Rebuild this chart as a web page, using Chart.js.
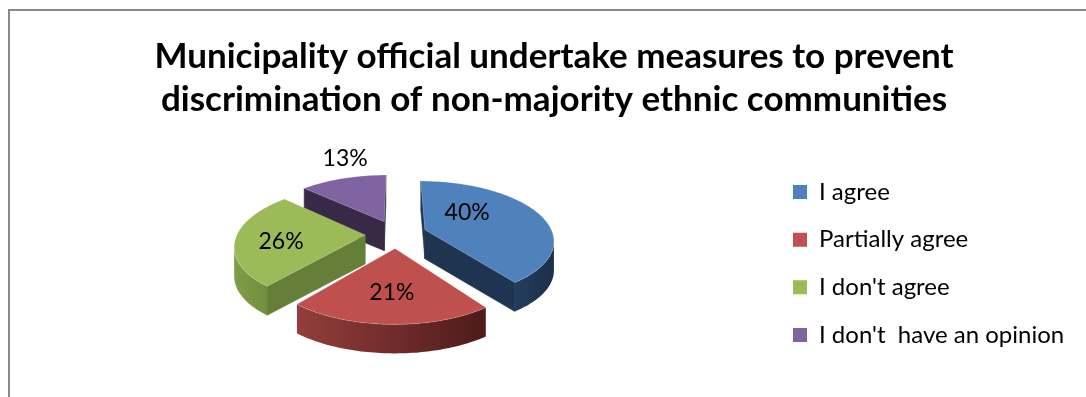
<!DOCTYPE html>
<html>
<head>
<meta charset="utf-8">
<title>Municipality measures</title>
<script src="https://cdn.jsdelivr.net/npm/chart.js@4.4.1/dist/chart.umd.min.js"></script>
<style>
  html, body { margin: 0; padding: 0; background: #fff; overflow: hidden; }
  #frame {
    position: absolute; left: 8px; top: 9px; width: 1200px; height: 500px;
    border: 2px solid #898989; box-sizing: border-box;
  }
  #wrap { position: absolute; left: 0; top: 0; width: 1086px; height: 397px; }
</style>
</head>
<body>
<div id="frame"></div>
<div id="wrap"><canvas id="pieChart" width="1086" height="397"></canvas></div>
<script>
// survey answers and their shares (%)
const answers = ["I agree", "Partially agree", "I don't agree", "I don't  have an opinion"];
const shares = [40, 21, 26, 13];
const titleLines = [
  "Municipality official undertake measures to prevent",
  "discrimination of non-majority ethnic communities"
];

// top faces, flat cut walls, and the curved rim (left -> right shade)
const faceColors = ["#4F81BD", "#C0504D", "#9BBB59", "#8064A2"];
const cutColors = ["#1F3451", "#6E2826", "#667F38", "#382A47"];
const rimColors = [
  ["#243D5C", "#1C2F4A"],
  ["#933E3C", "#4D1B1A"],
  ["#7F9E48", "#718F3E"],
  ["#4A3A5E", "#3A2C4C"]
];
// where each value label sits, relative to its slice (angle shift in deg, radius)
const labelSpots = [
  { da: -24, r: 0.49 },
  { da: 0, r: 0.63 },
  { da: -7, r: 0.65 },
  { da: 7.5, r: 1.5 }
];

const FONT = "Lato, 'Open Sans', sans-serif";

// tilted, exploded 3D pie built from the arc elements Chart.js lays out
const pie3d = {
  id: "pie3d",
  beforeDatasetsDraw(chart, args, opts) {
    const ctx = chart.ctx;
    const arcs = chart.getDatasetMeta(0).data;
    const { cx, cy, rx, ry, persp, explode, depth } = opts;

    const project = (a, b, h) => {
      const w = 1 + persp * b;
      return { x: cx + (rx * a) / w, y: cy - (ry * b) / w + h };
    };

    const slices = arcs.map((arc, i) => {
      // chart.js angles start at 3 o'clock; turn them into clockwise-from-top
      const t0 = arc.startAngle + Math.PI / 2;
      const t1 = arc.endAngle + Math.PI / 2;
      const mid = (t0 + t1) / 2;
      const apex = [explode * Math.sin(mid), explode * Math.cos(mid)];
      const n = Math.max(8, Math.ceil((t1 - t0) / 0.02));
      const rim = [];
      for (let k = 0; k <= n; k++) {
        const t = t0 + ((t1 - t0) * k) / n;
        rim.push([apex[0] + Math.sin(t), apex[1] + Math.cos(t)]);
      }
      return { i, mid, apex, rim };
    });

    // back slices first
    const order = slices.slice().sort(
      (p, q) => project(p.apex[0], p.apex[1], 0).y - project(q.apex[0], q.apex[1], 0).y
    );

    const quad = (p, q, color) => {
      const a = project(p[0], p[1], 0), b = project(q[0], q[1], 0);
      ctx.beginPath();
      ctx.moveTo(a.x, a.y);
      ctx.lineTo(b.x, b.y);
      ctx.lineTo(b.x, b.y + depth);
      ctx.lineTo(a.x, a.y + depth);
      ctx.closePath();
      ctx.fillStyle = color;
      ctx.fill();
      ctx.strokeStyle = color;
      ctx.lineWidth = 0.6;
      ctx.stroke();
    };
    // a wall hangs in view when its top edge runs leftwards (faces are clockwise)
    const facing = (p, q) => project(q[0], q[1], 0).x < project(p[0], p[1], 0).x;

    ctx.save();
    order.forEach((s) => {
      const { i, apex, rim } = s;
      const first = rim[0], last = rim[rim.length - 1];

      if (facing(apex, first)) quad(apex, first, cutColors[i]);
      if (facing(last, apex)) quad(last, apex, cutColors[i]);

      // curved rim: collect runs of visible segments
      let run = [];
      const flush = () => {
        if (run.length < 2) { run = []; return; }
        const top = run.map((p) => project(p[0], p[1], 0));
        const xs = top.map((p) => p.x);
        const g = ctx.createLinearGradient(Math.min(...xs), 0, Math.max(...xs), 0);
        g.addColorStop(0, rimColors[i][0]);
        g.addColorStop(1, rimColors[i][1]);
        ctx.beginPath();
        top.forEach((p, k) => (k ? ctx.lineTo(p.x, p.y) : ctx.moveTo(p.x, p.y)));
        for (let k = top.length - 1; k >= 0; k--) ctx.lineTo(top[k].x, top[k].y + depth);
        ctx.closePath();
        ctx.fillStyle = g;
        ctx.fill();
        run = [];
      };
      for (let k = 0; k < rim.length - 1; k++) {
        if (facing(rim[k], rim[k + 1])) {
          if (!run.length) run.push(rim[k]);
          run.push(rim[k + 1]);
        } else flush();
      }
      flush();

      // top face
      ctx.beginPath();
      const a0 = project(apex[0], apex[1], 0);
      ctx.moveTo(a0.x, a0.y);
      rim.forEach((p) => {
        const q = project(p[0], p[1], 0);
        ctx.lineTo(q.x, q.y);
      });
      ctx.closePath();
      ctx.fillStyle = faceColors[i];
      ctx.fill();
      ctx.strokeStyle = "rgba(255,255,255,0.18)";
      ctx.lineWidth = 1;
      ctx.stroke();
    });

    // value labels
    const values = chart.data.datasets[0].data;
    ctx.fillStyle = "#000";
    ctx.font = "23px " + FONT;
    ctx.textAlign = "center";
    ctx.textBaseline = "middle";
    slices.forEach((s) => {
      const spot = labelSpots[s.i];
      const t = s.mid + (spot.da * Math.PI) / 180;
      const p = project(s.apex[0] + spot.r * Math.sin(t), s.apex[1] + spot.r * Math.cos(t), 0);
      ctx.fillText(values[s.i] + "%", p.x, p.y);
    });
    ctx.restore();
    return false;
  }
};

// keep the legend squares at a fixed column regardless of text width
const LEGEND_FONT = 24;
const LEGEND_BOX = 14;
const LEGEND_X = 793;
const meas = document.createElement("canvas").getContext("2d");
meas.font = LEGEND_FONT + "px " + FONT;
const widest = Math.max(...answers.map((t) => meas.measureText(t).width));
const padRight = 1086 - 10 - LEGEND_X - (LEGEND_BOX + LEGEND_FONT / 2 + widest);
const padLeft = padRight + 22;

new Chart(document.getElementById("pieChart"), {
  type: "pie",
  data: {
    labels: answers,
    datasets: [{
      data: shares,
      backgroundColor: faceColors,
      borderWidth: 0
    }]
  },
  options: {
    responsive: false,
    animation: false,
    events: [],
    layout: { padding: { left: padLeft, right: padRight, top: 0, bottom: 0 } },
    plugins: {
      title: {
        display: true,
        text: titleLines,
        color: "#000",
        font: { family: FONT, size: 35, weight: "bold", lineHeight: 1.23 },
        padding: { top: 35, bottom: 9 }
      },
      legend: {
        position: "right",
        // empty heading pushes the entries down below the chart title
        title: { display: true, text: "", font: { size: 10, lineHeight: 1 }, padding: { top: 120, bottom: 0 } },
        labels: {
          color: "#000",
          boxWidth: LEGEND_BOX,
          boxHeight: LEGEND_BOX,
          padding: 23.7,
          font: { family: FONT, size: LEGEND_FONT }
        }
      },
      tooltip: { enabled: false },
      pie3d: {
        cx: 396, cy: 234,
        rx: 128, ry: 58,
        persp: 0.165,
        explode: 0.24,
        depth: 29
      }
    }
  },
  plugins: [pie3d]
});
</script>
</body>
</html>
